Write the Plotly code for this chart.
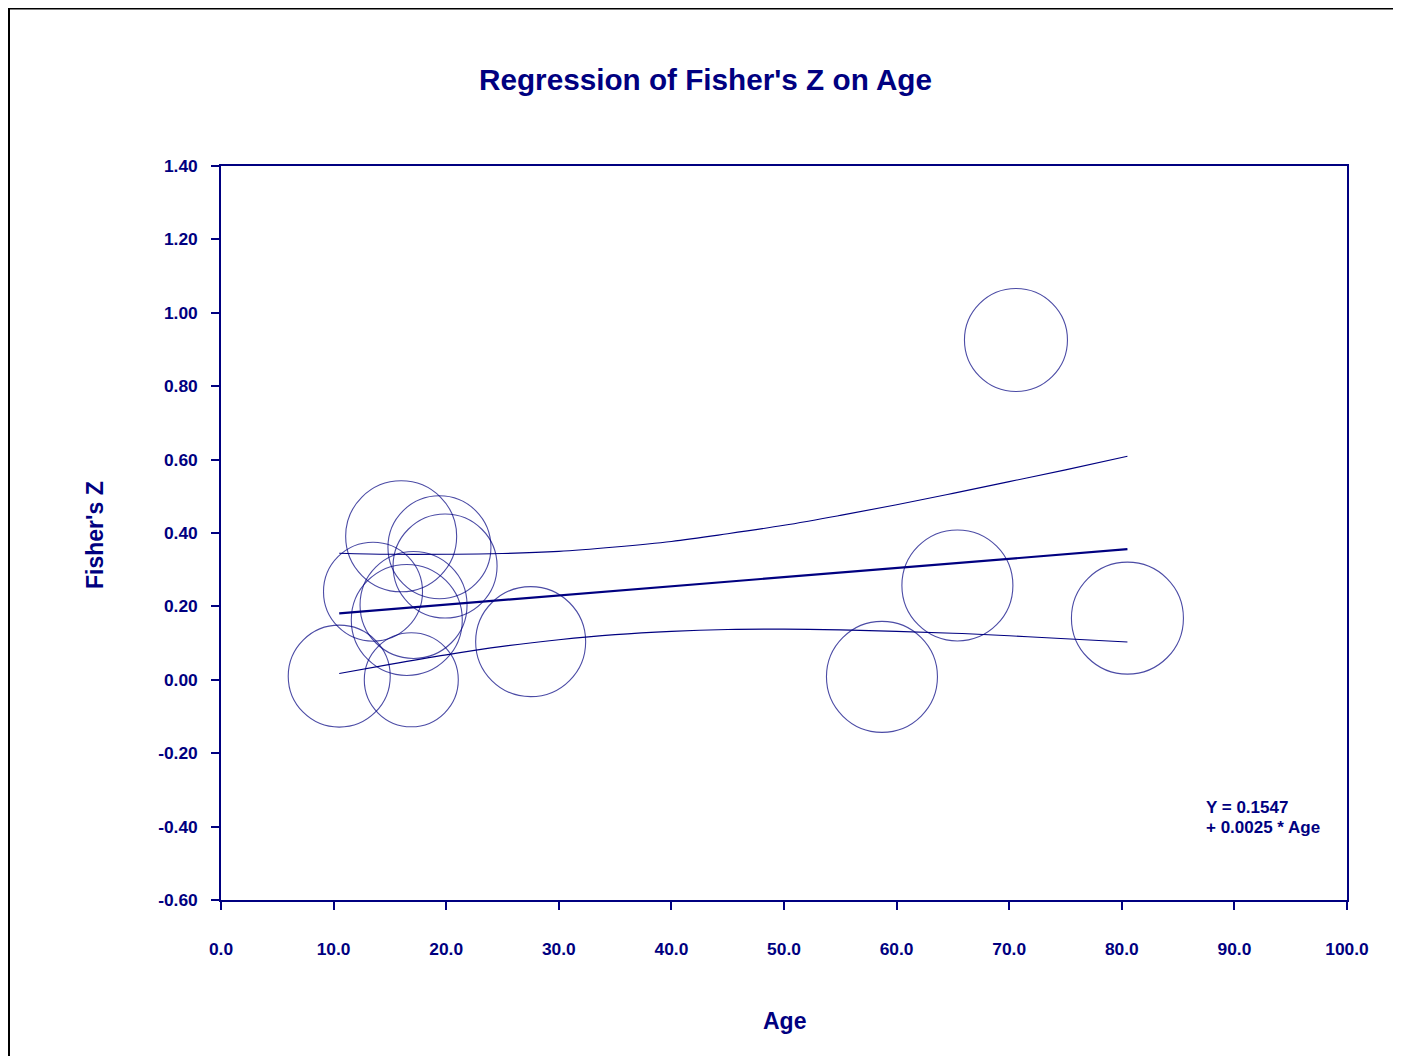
import plotly.graph_objects as go

# study data
age = [10.5, 16.9, 16.0, 13.5, 19.4, 19.9, 17.1, 16.5, 27.5, 58.7, 65.4, 70.6, 80.5]
fisher_z = [0.010, 0.000, 0.391, 0.240, 0.361, 0.310, 0.204, 0.163, 0.104, 0.008, 0.257, 0.926, 0.168]
weight = [10.2, 9.4, 11.1, 9.9, 10.3, 10.4, 10.7, 11.1, 11.0, 11.1, 11.1, 10.3, 11.2]

# fitted line and confidence limits
fit_age = [10.5, 80.5]
fit_z = [0.181, 0.356]
band_age = [10.5, 15, 20, 25, 30, 35, 40, 45, 50, 55, 60, 65, 70, 75, 80.5]
band_upper = [0.345, 0.342, 0.342, 0.344, 0.350, 0.362, 0.377, 0.398, 0.421,
              0.448, 0.477, 0.508, 0.540, 0.572, 0.609]
band_lower = [0.017, 0.042, 0.068, 0.091, 0.109, 0.123, 0.132, 0.137, 0.138,
              0.136, 0.132, 0.127, 0.120, 0.112, 0.103]

x_ticks = [0, 10, 20, 30, 40, 50, 60, 70, 80, 90, 100]
y_ticks = [-0.6, -0.4, -0.2, 0.0, 0.2, 0.4, 0.6, 0.8, 1.0, 1.2, 1.4]

NAVY = "#000080"
FONT = "Arial, Liberation Sans, sans-serif"
W, H = 1393, 1048   # page body adds an 8px margin


def build_traces():
    bubbles = go.Scatter(
        x=age, y=fisher_z, mode="markers",
        marker=dict(size=weight, sizemode="diameter", sizeref=0.1,
                    color="rgba(0,0,0,0)", line=dict(color=NAVY, width=1.1)),
    )
    fit = go.Scatter(x=fit_age, y=fit_z, mode="lines",
                     line=dict(color=NAVY, width=2.2))
    upper = go.Scatter(x=band_age, y=band_upper, mode="lines",
                       line=dict(color=NAVY, width=1.1, shape="spline"))
    lower = go.Scatter(x=band_age, y=band_lower, mode="lines",
                       line=dict(color=NAVY, width=1.1, shape="spline"))
    return [bubbles, fit, upper, lower]


def format_chart(fig):
    axis_common = dict(
        showline=True, linecolor=NAVY, linewidth=1.5, mirror=True,
        ticks="outside", ticklen=8, tickwidth=1.5, tickcolor=NAVY,
        showgrid=False, zeroline=False,
        tickfont=dict(family=FONT, size=17.4, color=NAVY, weight="bold"),
    )
    fig.update_xaxes(range=[0, 100], tickvals=x_ticks,
                     ticktext=[f"{v:.1f}" for v in x_ticks],
                     ticklabelstandoff=24, **axis_common)
    fig.update_yaxes(range=[-0.6, 1.4], tickvals=y_ticks,
                     ticktext=[f"{v:.2f}" for v in y_ticks],
                     ticklabelstandoff=10, **axis_common)

    fig.update_layout(
        width=W, height=H,
        margin=dict(l=213, r=54, t=158, b=156),
        paper_bgcolor="white", plot_bgcolor="white",
        showlegend=False,
        title=dict(text="Regression of Fisher's Z on Age",
                   x=697.5 / W, xanchor="center",
                   y=1 - 72 / H, yanchor="middle",
                   font=dict(family=FONT, size=29.7, color=NAVY, weight="bold")),
    )

    # axis titles and the equation
    label_font = dict(family=FONT, size=23, color=NAVY, weight="bold")
    fig.add_annotation(text="Age", xref="paper", yref="paper",
                       x=0.5, y=-(1021 - 900) / 734, showarrow=False,
                       xanchor="center", yanchor="middle", font=label_font)
    fig.add_annotation(text="Fisher's Z", xref="paper", yref="paper",
                       x=-(221 - 95) / 1126, y=(900 - 535) / 734, textangle=-90,
                       showarrow=False, xanchor="center", yanchor="middle",
                       font=label_font)
    eq_font = dict(family=FONT, size=17, color=NAVY, weight="bold")
    fig.add_annotation(text="Y = 0.1547", x=87.3, y=-0.347, showarrow=False,
                       xanchor="left", yanchor="middle", font=eq_font)
    fig.add_annotation(text="+ 0.0025 * Age", x=87.3, y=-0.402, showarrow=False,
                       xanchor="left", yanchor="middle", font=eq_font)

    # outer page frame
    fig.add_shape(type="rect", xref="paper", yref="paper",
                  x0=-(213 - 1) / 1126, x1=1.3, y0=-0.5, y1=891.5 / 734,
                  line=dict(color="black", width=2))
    return fig


fig = go.Figure(build_traces())
fig = format_chart(fig)
fig.write_html("out.html")
